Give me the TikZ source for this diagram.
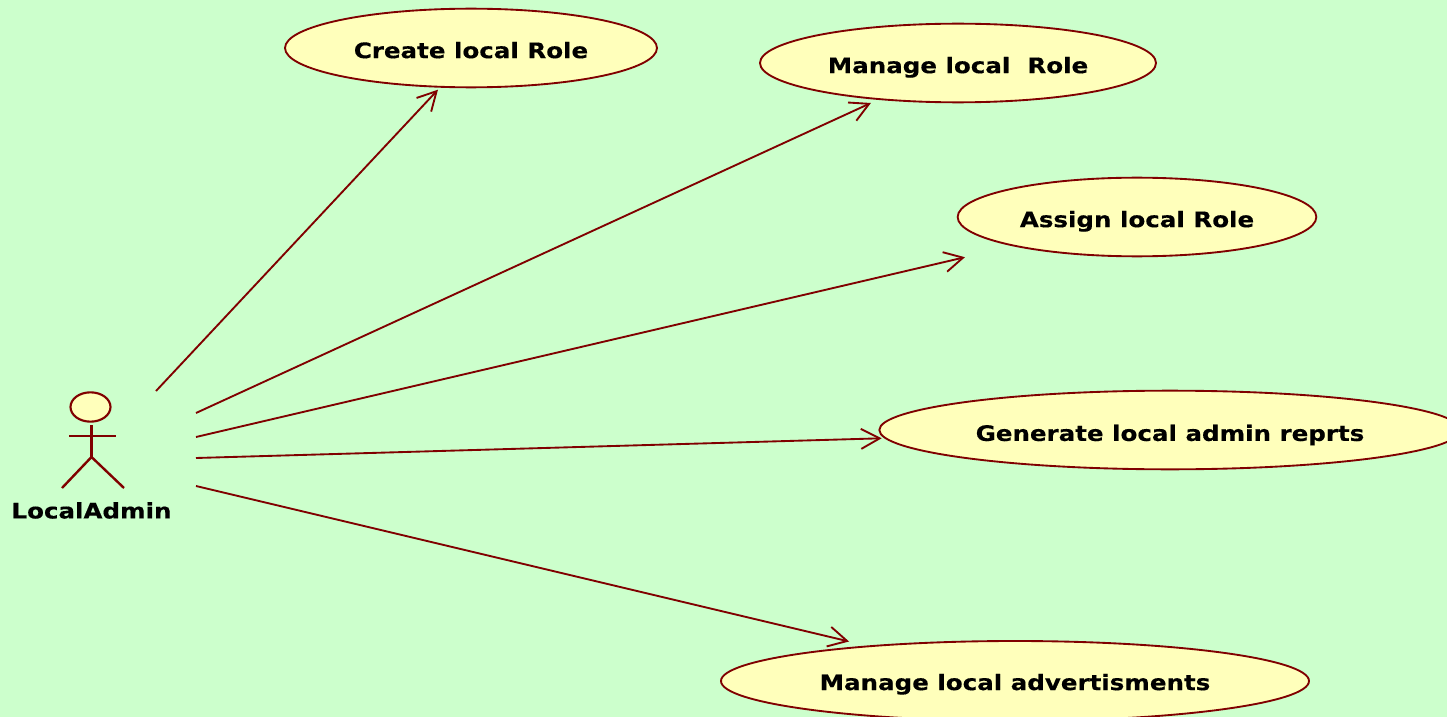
\documentclass[tikz,border=0pt]{standalone}
\usepackage{fontspec}
\setmainfont{DejaVu Sans}
\newfontfamily\lblfont{DejaVu Sans}[FakeStretch=1.15,FakeBold=0.3]
\usetikzlibrary{arrows.meta,shapes.geometric}
\definecolor{bgc}{HTML}{CCFFCC}
\definecolor{ucfill}{HTML}{FFFFBB}
\definecolor{umlred}{HTML}{800000}
\tikzset{
  lbl/.style={font=\lblfont\fontsize{16pt}{18pt}\selectfont\bfseries,text=black},
  usecase/.style={ellipse,draw=umlred,fill=ucfill,line width=1.4pt,inner sep=0pt,outer sep=0pt,lbl},
  assoc/.style={draw=umlred,line width=1.4pt,-{Straight Barb[length=14pt,width=15pt,line width=1.4pt]}},
  limb/.style={draw=umlred,line width=1.8pt}
}
\newcommand{\dn}[1]{\raisebox{-7.6pt}[0pt][0pt]{#1}}
\begin{document}
\begin{tikzpicture}[x=0.75pt,y=-0.75pt]
\fill[bgc] (0,0) rectangle (1447,717);
\useasboundingbox (0,0) rectangle (1447,717);
\node[usecase,minimum width=279pt,minimum height=59pt] (create) at (471,48) {\dn{Create local Role}};
\node[usecase,minimum width=297pt,minimum height=59pt] (manage) at (958,63) {\dn{Manage local\ \ Role}};
\node[usecase,minimum width=269pt,minimum height=59pt] (assign) at (1137,217) {\dn{Assign local Role}};
\node[usecase,minimum width=436pt,minimum height=59pt] (report) at (1170,430) {\raisebox{-8.2pt}[0pt][0pt]{Generate local admin reprts}};
\node[usecase,minimum width=441pt,minimum height=60pt] (advert) at (1015,681) {\raisebox{-6.8pt}[0pt][0pt]{Manage local advertisments}};
% actor
\node[ellipse,draw=umlred,fill=ucfill,line width=1.6pt,inner sep=0pt,minimum width=30pt,minimum height=22pt] (head) at (90.5,407) {};
\coordinate (neck) at (91.5,425);
\coordinate (hip) at (91.5,457);
\coordinate (armL) at (69,436);
\coordinate (armR) at (116,436);
\coordinate (legL) at (62,488);
\coordinate (legR) at (124,488);
\draw[limb] (neck) -- (hip);
\draw[limb] (armL) -- (armR);
\draw[limb] (legL) -- (hip) -- (legR);
\node[inner sep=0pt,lbl] (actor) at (91.5,510.5) {LocalAdmin};
% connectors
\coordinate (s1) at (156,391);
\coordinate (s2) at (196,413);
\coordinate (s3) at (196,437);
\coordinate (s4) at (196,458);
\coordinate (s5) at (196,486);
\draw[assoc,shorten >=3pt] (s1) -- (create.232);
\draw[assoc,shorten >=7pt] (s2) -- (manage);
\draw[assoc,shorten >=38pt] (s3) -- (assign);
\draw[assoc,shorten >=3pt] (s4) -- (report);
\draw[assoc,shorten >=15.5pt] (s5) -- (advert);
\end{tikzpicture}
\end{document}
